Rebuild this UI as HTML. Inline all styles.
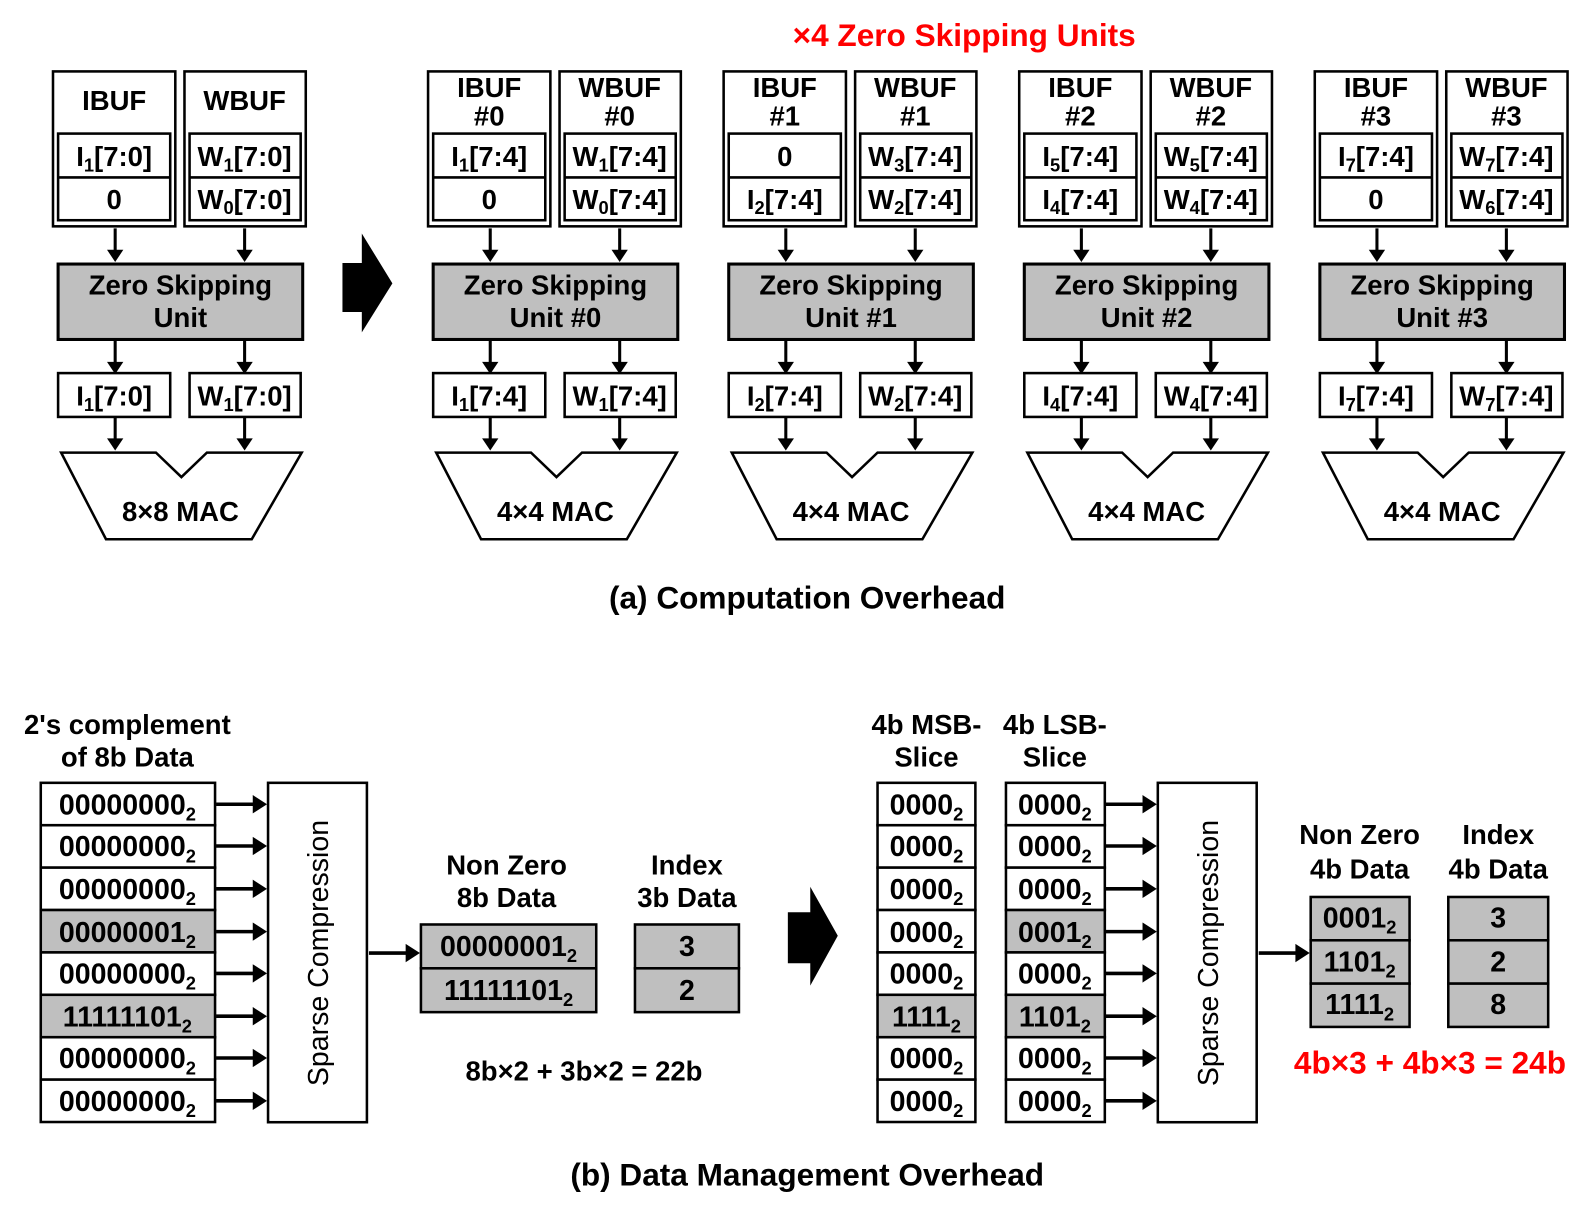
<!DOCTYPE html>
<html><head><meta charset="utf-8"><style>
html,body{margin:0;padding:0;background:#fff;}
svg{display:block;}
text{font-family:"Liberation Sans",sans-serif;font-weight:bold;fill:#000;}
</style></head><body>
<svg width="1592" height="1213" viewBox="0 0 1562 1190" xmlns="http://www.w3.org/2000/svg">
<defs>
<g id="ad"><line x1="0" y1="0" x2="0" y2="24" stroke="#000" stroke-width="3"/><polygon points="-8,21 8,21 0,33" fill="#000"/></g>
<g id="ar"><line x1="0" y1="0" x2="38" y2="0" stroke="#000" stroke-width="3.5"/><polygon points="36,-9 36,9 50,0" fill="#000"/></g>
<g id="common">
<rect x="52" y="70" width="120" height="152" fill="#fff" stroke="#000" stroke-width="2.5"/>
<rect x="57" y="131" width="110" height="85" fill="#fff" stroke="#000" stroke-width="2.5"/>
<line x1="57" y1="174" x2="167" y2="174" stroke="#000" stroke-width="2.5"/>
<rect x="181" y="70" width="119" height="152" fill="#fff" stroke="#000" stroke-width="2.5"/>
<rect x="186" y="131" width="109" height="85" fill="#fff" stroke="#000" stroke-width="2.5"/>
<line x1="186" y1="174" x2="295" y2="174" stroke="#000" stroke-width="2.5"/>
<use href="#ad" x="113" y="224"/><use href="#ad" x="240" y="224"/>
<rect x="57" y="259" width="240" height="74" fill="#bfbfbf" stroke="#000" stroke-width="3"/>
<use href="#ad" x="113" y="334"/><use href="#ad" x="240" y="334"/>
<rect x="57" y="366" width="110" height="43" fill="#fff" stroke="#000" stroke-width="2.5"/>
<rect x="186" y="366" width="109" height="43" fill="#fff" stroke="#000" stroke-width="2.5"/>
<use href="#ad" x="113" y="409"/><use href="#ad" x="240" y="409"/>
<polygon points="60,444 153,444 178,468 203,444 296,444 247,529 104,529" fill="#fff" stroke="#000" stroke-width="2.5"/>
</g>
</defs>

<text x="946" y="45" font-size="31" text-anchor="middle" style="fill:#ff0000">×4 Zero Skipping Units</text>

<use href="#common"/>
<g font-size="27" text-anchor="middle">
<text x="112" y="108">IBUF</text><text x="240" y="108">WBUF</text>
<text x="112" y="163">I<tspan font-size="18" dy="5">1</tspan><tspan dy="-5">[7:0]</tspan></text>
<text x="112" y="205">0</text>
<text x="240" y="163">W<tspan font-size="18" dy="5">1</tspan><tspan dy="-5">[7:0]</tspan></text>
<text x="240" y="205">W<tspan font-size="18" dy="5">0</tspan><tspan dy="-5">[7:0]</tspan></text>
<text x="177" y="289">Zero Skipping</text><text x="177" y="321">Unit</text>
<text x="112" y="398">I<tspan font-size="18" dy="5">1</tspan><tspan dy="-5">[7:0]</tspan></text>
<text x="240" y="398">W<tspan font-size="18" dy="5">1</tspan><tspan dy="-5">[7:0]</tspan></text>
<text x="177" y="511">8×8 MAC</text>
</g>

<polygon points="336,258 355,258 355,229 385,278 355,326 355,306 336,306" fill="#000"/>

<g transform="translate(368,0)"><use href="#common"/>
<g font-size="27" text-anchor="middle">
<text x="112" y="95">IBUF</text><text x="112" y="123">#0</text><text x="240" y="95">WBUF</text><text x="240" y="123">#0</text>
<text x="112" y="163">I<tspan font-size="18" dy="5">1</tspan><tspan dy="-5">[7:4]</tspan></text>
<text x="112" y="205">0</text>
<text x="240" y="163">W<tspan font-size="18" dy="5">1</tspan><tspan dy="-5">[7:4]</tspan></text>
<text x="240" y="205">W<tspan font-size="18" dy="5">0</tspan><tspan dy="-5">[7:4]</tspan></text>
<text x="177" y="289">Zero Skipping</text><text x="177" y="321">Unit #0</text>
<text x="112" y="398">I<tspan font-size="18" dy="5">1</tspan><tspan dy="-5">[7:4]</tspan></text>
<text x="240" y="398">W<tspan font-size="18" dy="5">1</tspan><tspan dy="-5">[7:4]</tspan></text>
<text x="177" y="511">4×4 MAC</text></g></g>

<g transform="translate(658,0)"><use href="#common"/>
<g font-size="27" text-anchor="middle">
<text x="112" y="95">IBUF</text><text x="112" y="123">#1</text><text x="240" y="95">WBUF</text><text x="240" y="123">#1</text>
<text x="112" y="163">0</text>
<text x="112" y="205">I<tspan font-size="18" dy="5">2</tspan><tspan dy="-5">[7:4]</tspan></text>
<text x="240" y="163">W<tspan font-size="18" dy="5">3</tspan><tspan dy="-5">[7:4]</tspan></text>
<text x="240" y="205">W<tspan font-size="18" dy="5">2</tspan><tspan dy="-5">[7:4]</tspan></text>
<text x="177" y="289">Zero Skipping</text><text x="177" y="321">Unit #1</text>
<text x="112" y="398">I<tspan font-size="18" dy="5">2</tspan><tspan dy="-5">[7:4]</tspan></text>
<text x="240" y="398">W<tspan font-size="18" dy="5">2</tspan><tspan dy="-5">[7:4]</tspan></text>
<text x="177" y="511">4×4 MAC</text></g></g>

<g transform="translate(948,0)"><use href="#common"/>
<g font-size="27" text-anchor="middle">
<text x="112" y="95">IBUF</text><text x="112" y="123">#2</text><text x="240" y="95">WBUF</text><text x="240" y="123">#2</text>
<text x="112" y="163">I<tspan font-size="18" dy="5">5</tspan><tspan dy="-5">[7:4]</tspan></text>
<text x="112" y="205">I<tspan font-size="18" dy="5">4</tspan><tspan dy="-5">[7:4]</tspan></text>
<text x="240" y="163">W<tspan font-size="18" dy="5">5</tspan><tspan dy="-5">[7:4]</tspan></text>
<text x="240" y="205">W<tspan font-size="18" dy="5">4</tspan><tspan dy="-5">[7:4]</tspan></text>
<text x="177" y="289">Zero Skipping</text><text x="177" y="321">Unit #2</text>
<text x="112" y="398">I<tspan font-size="18" dy="5">4</tspan><tspan dy="-5">[7:4]</tspan></text>
<text x="240" y="398">W<tspan font-size="18" dy="5">4</tspan><tspan dy="-5">[7:4]</tspan></text>
<text x="177" y="511">4×4 MAC</text></g></g>

<g transform="translate(1238,0)"><use href="#common"/>
<g font-size="27" text-anchor="middle">
<text x="112" y="95">IBUF</text><text x="112" y="123">#3</text><text x="240" y="95">WBUF</text><text x="240" y="123">#3</text>
<text x="112" y="163">I<tspan font-size="18" dy="5">7</tspan><tspan dy="-5">[7:4]</tspan></text>
<text x="112" y="205">0</text>
<text x="240" y="163">W<tspan font-size="18" dy="5">7</tspan><tspan dy="-5">[7:4]</tspan></text>
<text x="240" y="205">W<tspan font-size="18" dy="5">6</tspan><tspan dy="-5">[7:4]</tspan></text>
<text x="177" y="289">Zero Skipping</text><text x="177" y="321">Unit #3</text>
<text x="112" y="398">I<tspan font-size="18" dy="5">7</tspan><tspan dy="-5">[7:4]</tspan></text>
<text x="240" y="398">W<tspan font-size="18" dy="5">7</tspan><tspan dy="-5">[7:4]</tspan></text>
<text x="177" y="511">4×4 MAC</text></g></g>

<text x="792" y="597" font-size="31" text-anchor="middle">(a) Computation Overhead</text>

<g font-size="27" text-anchor="middle">
<text x="125" y="720">2's complement</text><text x="125" y="752">of 8b Data</text>
</g>
<g stroke="#000" stroke-width="2.5">
<rect x="40" y="768" width="171" height="41.6" fill="#fff"/>
<rect x="40" y="809.6" width="171" height="41.6" fill="#fff"/>
<rect x="40" y="851.2" width="171" height="41.6" fill="#fff"/>
<rect x="40" y="892.8" width="171" height="41.6" fill="#bfbfbf"/>
<rect x="40" y="934.4" width="171" height="41.6" fill="#fff"/>
<rect x="40" y="976" width="171" height="41.6" fill="#bfbfbf"/>
<rect x="40" y="1017.6" width="171" height="41.6" fill="#fff"/>
<rect x="40" y="1059.2" width="171" height="41.6" fill="#fff"/>
<rect x="263" y="768" width="97" height="333" fill="#fff"/>
</g>
<g font-size="28" text-anchor="middle">
<text x="125" y="799">00000000<tspan font-size="18" dy="6">2</tspan></text>
<text x="125" y="840">00000000<tspan font-size="18" dy="6">2</tspan></text>
<text x="125" y="882">00000000<tspan font-size="18" dy="6">2</tspan></text>
<text x="125" y="924">00000001<tspan font-size="18" dy="6">2</tspan></text>
<text x="125" y="965">00000000<tspan font-size="18" dy="6">2</tspan></text>
<text x="125" y="1007">11111101<tspan font-size="18" dy="6">2</tspan></text>
<text x="125" y="1048">00000000<tspan font-size="18" dy="6">2</tspan></text>
<text x="125" y="1090">00000000<tspan font-size="18" dy="6">2</tspan></text>
</g>
<use href="#ar" x="212" y="789"/><use href="#ar" x="212" y="830"/><use href="#ar" x="212" y="872"/><use href="#ar" x="212" y="914"/>
<use href="#ar" x="212" y="955"/><use href="#ar" x="212" y="997"/><use href="#ar" x="212" y="1038"/><use href="#ar" x="212" y="1080"/>
<text transform="translate(322,935) rotate(-90)" font-size="28" text-anchor="middle" style="font-weight:normal">Sparse Compression</text>
<use href="#ar" x="362" y="935"/>

<g font-size="27" text-anchor="middle">
<text x="497" y="858">Non Zero</text><text x="497" y="890">8b Data</text>
<text x="674" y="858">Index</text><text x="674" y="890">3b Data</text>
</g>
<g stroke="#000" stroke-width="2.5" fill="#bfbfbf">
<rect x="413" y="907" width="172" height="43"/><rect x="413" y="950" width="172" height="43"/>
<rect x="623" y="907" width="102" height="43"/><rect x="623" y="950" width="102" height="43"/>
</g>
<g font-size="28" text-anchor="middle">
<text x="499" y="938">00000001<tspan font-size="18" dy="6">2</tspan></text>
<text x="499" y="981">11111101<tspan font-size="18" dy="6">2</tspan></text>
<text x="674" y="938">3</text><text x="674" y="981">2</text>
<text x="573" y="1060" font-size="27">8b×2 + 3b×2 = 22b</text>
</g>

<polygon points="773,895 795,895 795,870 822,918 795,967 795,945 773,945" fill="#000"/>

<g font-size="27" text-anchor="middle">
<text x="909" y="720">4b MSB-</text><text x="909" y="752">Slice</text>
<text x="1035" y="720">4b LSB-</text><text x="1035" y="752">Slice</text>
</g>
<g stroke="#000" stroke-width="2.5">
<rect x="861" y="768" width="96" height="41.6" fill="#fff"/>
<rect x="861" y="809.6" width="96" height="41.6" fill="#fff"/>
<rect x="861" y="851.2" width="96" height="41.6" fill="#fff"/>
<rect x="861" y="892.8" width="96" height="41.6" fill="#fff"/>
<rect x="861" y="934.4" width="96" height="41.6" fill="#fff"/>
<rect x="861" y="976" width="96" height="41.6" fill="#bfbfbf"/>
<rect x="861" y="1017.6" width="96" height="41.6" fill="#fff"/>
<rect x="861" y="1059.2" width="96" height="41.6" fill="#fff"/>
<rect x="987" y="768" width="97" height="41.6" fill="#fff"/>
<rect x="987" y="809.6" width="97" height="41.6" fill="#fff"/>
<rect x="987" y="851.2" width="97" height="41.6" fill="#fff"/>
<rect x="987" y="892.8" width="97" height="41.6" fill="#bfbfbf"/>
<rect x="987" y="934.4" width="97" height="41.6" fill="#fff"/>
<rect x="987" y="976" width="97" height="41.6" fill="#bfbfbf"/>
<rect x="987" y="1017.6" width="97" height="41.6" fill="#fff"/>
<rect x="987" y="1059.2" width="97" height="41.6" fill="#fff"/>
<rect x="1136" y="768" width="97" height="333" fill="#fff"/>
</g>
<g font-size="28" text-anchor="middle">
<text x="909" y="799">0000<tspan font-size="18" dy="6">2</tspan></text>
<text x="909" y="840">0000<tspan font-size="18" dy="6">2</tspan></text>
<text x="909" y="882">0000<tspan font-size="18" dy="6">2</tspan></text>
<text x="909" y="924">0000<tspan font-size="18" dy="6">2</tspan></text>
<text x="909" y="965">0000<tspan font-size="18" dy="6">2</tspan></text>
<text x="909" y="1007">1111<tspan font-size="18" dy="6">2</tspan></text>
<text x="909" y="1048">0000<tspan font-size="18" dy="6">2</tspan></text>
<text x="909" y="1090">0000<tspan font-size="18" dy="6">2</tspan></text>
<text x="1035" y="799">0000<tspan font-size="18" dy="6">2</tspan></text>
<text x="1035" y="840">0000<tspan font-size="18" dy="6">2</tspan></text>
<text x="1035" y="882">0000<tspan font-size="18" dy="6">2</tspan></text>
<text x="1035" y="924">0001<tspan font-size="18" dy="6">2</tspan></text>
<text x="1035" y="965">0000<tspan font-size="18" dy="6">2</tspan></text>
<text x="1035" y="1007">1101<tspan font-size="18" dy="6">2</tspan></text>
<text x="1035" y="1048">0000<tspan font-size="18" dy="6">2</tspan></text>
<text x="1035" y="1090">0000<tspan font-size="18" dy="6">2</tspan></text>
</g>
<use href="#ar" x="1085" y="789"/><use href="#ar" x="1085" y="830"/><use href="#ar" x="1085" y="872"/><use href="#ar" x="1085" y="914"/>
<use href="#ar" x="1085" y="955"/><use href="#ar" x="1085" y="997"/><use href="#ar" x="1085" y="1038"/><use href="#ar" x="1085" y="1080"/>
<text transform="translate(1195,935) rotate(-90)" font-size="28" text-anchor="middle" style="font-weight:normal">Sparse Compression</text>
<use href="#ar" x="1235" y="935"/>

<g font-size="27" text-anchor="middle">
<text x="1334" y="828">Non Zero</text><text x="1334" y="862">4b Data</text>
<text x="1470" y="828">Index</text><text x="1470" y="862">4b Data</text>
</g>
<g stroke="#000" stroke-width="2.5" fill="#bfbfbf">
<rect x="1286" y="880" width="97" height="42.5"/><rect x="1286" y="922.5" width="97" height="42.5"/><rect x="1286" y="965" width="97" height="42.5"/>
<rect x="1421" y="880" width="98" height="42.5"/><rect x="1421" y="922.5" width="98" height="42.5"/><rect x="1421" y="965" width="98" height="42.5"/>
</g>
<g font-size="28" text-anchor="middle">
<text x="1334" y="910">0001<tspan font-size="18" dy="6">2</tspan></text>
<text x="1334" y="953">1101<tspan font-size="18" dy="6">2</tspan></text>
<text x="1334" y="995">1111<tspan font-size="18" dy="6">2</tspan></text>
<text x="1470" y="910">3</text><text x="1470" y="953">2</text><text x="1470" y="995">8</text>
</g>
<text x="1403" y="1053" font-size="31" text-anchor="middle" style="fill:#ff0000">4b×3 + 4b×3 = 24b</text>

<text x="792" y="1163" font-size="31" text-anchor="middle">(b) Data Management Overhead</text>
</svg>
</body></html>
